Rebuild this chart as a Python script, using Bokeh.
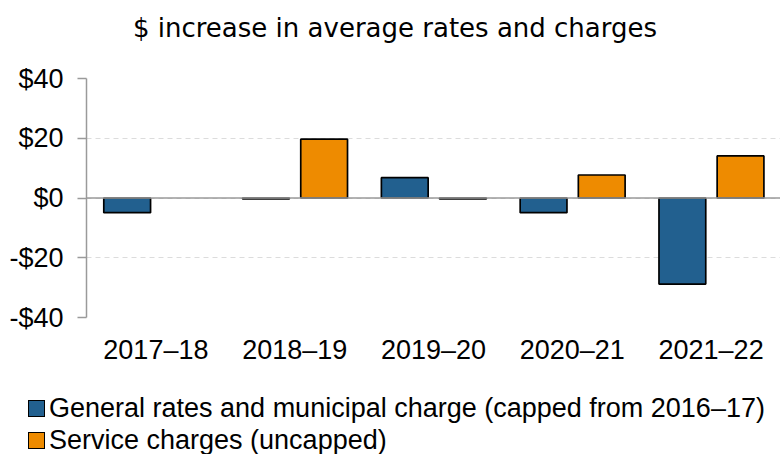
from bokeh.plotting import figure
from bokeh.layouts import column
from bokeh.models import ColumnDataSource, FactorRange, FixedTicker, Span, Div
from bokeh.transform import dodge
from bokeh.embed import file_html
from bokeh.resources import INLINE

years = ["2017–18", "2018–19", "2019–20", "2020–21", "2021–22"]
general = [-4.9, -0.3, 6.8, -4.9, -28.8]
service = [float("nan"), 19.7, -0.3, 7.7, 14.1]
y_ticks = [-40, -20, 0, 20, 40]
y_tick_labels = ["-$40", "-$20", "$0", "$20", "$40"]
series_names = ["General rates and municipal charge (capped from 2016–17)", "Service charges (uncapped)"]
title_text = "$ increase in average rates and charges"

FONT = "Liberation Sans"
BLUE = "#22608F"
ORANGE = "#EE8B00"
series_colors = [BLUE, ORANGE]
W = 780

# ---- title ----
title_div = Div(
    text=(f'<div style="width:{W}px;height:56px;line-height:56px;text-align:center;overflow:hidden;'
          f'font-family:\'DejaVu Sans\';font-size:26px;color:#000;white-space:nowrap;'
          f'padding-left:10px;box-sizing:border-box;">{title_text}</div>'),
    width=W, height=56, margin=0)

# ---- chart ----
src = ColumnDataSource(dict(year=years, general=general, service=service))

p = figure(width=W, height=318, x_range=FactorRange(*years, start=0, end=4.98), y_range=(-40, 40),
           output_backend="svg", toolbar_location=None,
           min_border_left=86, min_border_right=0, min_border_top=22, min_border_bottom=57)
p.outline_line_color = None
p.background_fill_color = "white"

bar_style = dict(width=0.337, bottom=0, line_color="black", line_width=1.7)
r1 = p.vbar(x=dodge("year", -0.207, range=p.x_range), top="general", source=src, fill_color=BLUE, **bar_style)
r2 = p.vbar(x=dodge("year", 0.212, range=p.x_range), top="service", source=src, fill_color=ORANGE, **bar_style)

p.add_layout(Span(location=0, dimension="width", line_color="#9a9a9a", line_width=1.7))

p.xgrid.grid_line_color = None
p.ygrid.grid_line_color = "#dcdcdc"
p.ygrid.grid_line_dash = "5 4"
p.ygrid.grid_line_width = 1

p.yaxis.ticker = FixedTicker(ticks=y_ticks)
p.yaxis.major_label_overrides = {t: l for t, l in zip(y_ticks, y_tick_labels)}
p.yaxis.axis_line_color = "#9a9a9a"
p.yaxis.axis_line_width = 1.5
p.yaxis.major_tick_line_color = "#9a9a9a"
p.yaxis.major_tick_line_width = 1.5
p.yaxis.major_tick_in = 0
p.yaxis.major_tick_out = 9
p.yaxis.minor_tick_line_color = None
p.yaxis.major_label_text_font = FONT
p.yaxis.major_label_text_font_size = "27px"
p.yaxis.major_label_text_color = "#000000"
p.yaxis.major_label_standoff = 14

p.xaxis.axis_line_color = None
p.xaxis.major_tick_line_color = None
p.xaxis.minor_tick_line_color = None
p.xaxis.major_label_text_font = FONT
p.xaxis.major_label_text_font_size = "27px"
p.xaxis.major_label_text_color = "#000000"
p.xaxis.major_label_standoff = 11

# ---- legend ----
rows = ""
for name, color in zip(series_names, series_colors):
    rows += (f'<div style="position:relative;height:32px;line-height:32px;white-space:nowrap;padding-left:21px;">'
             f'<span style="position:absolute;left:0;top:8px;width:17px;height:17px;box-sizing:border-box;'
             f'background:{color};border:1.5px solid #000;"></span>'
             f'{name}</div>')
legend_div = Div(
    text=(f'<div style="width:{W}px;height:80px;overflow:hidden;padding:18px 0 0 28px;box-sizing:border-box;'
          f'font-family:\'Liberation Sans\';font-size:27px;color:#000;">{rows}</div>'),
    width=W, height=80, margin=0)

layout = column(title_div, p, legend_div, spacing=0)
open("out.html", "w").write(file_html(layout, INLINE))
